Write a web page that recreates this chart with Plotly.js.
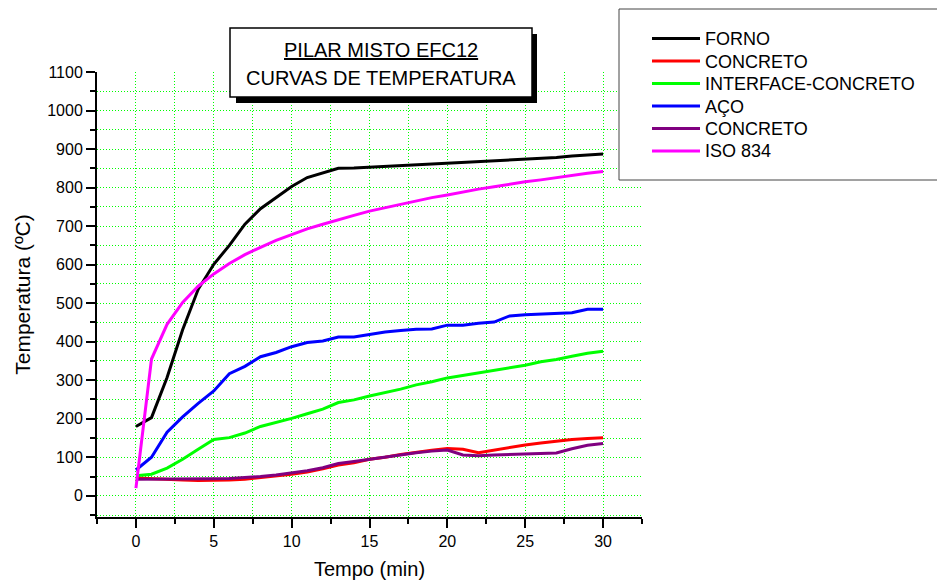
<!DOCTYPE html>
<html>
<head>
<meta charset="utf-8">
<script src="https://cdn.plot.ly/plotly-3.0.1.min.js"></script>
<style>html,body{margin:0;padding:0;background:#fff;}#chart{width:937px;height:580px;}</style>
</head>
<body>
<div id="chart"></div>
<script>
var tempo = [0,1,2,3,4,5,6,7,8,9,10,11,12,13,14,15,16,17,18,19,20,21,22,23,24,25,26,27,28,29,30];
var forno = [180,203,307,431,536,601,650,705,745,775,803,826,838,850,851,853,855,857,860,862,865,867,869,871,873,875,876,878,882,884,887];
var concreto1 = [46,44,42,41,40,40,41,43,47,51,56,62,70,80,86,95,100,107,113,118,123,121,112,119,126,132,137,142,146,149,151];
var interfaceConcreto = [52,56,72,95,121,146,151,163,180,190,201,213,225,242,249,259,268,277,288,296,306,313,319,326,332,339,348,354,362,370,375];
var aco = [67,100,165,205,240,272,317,336,361,372,387,398,402,412,412,419,425,429,432,433,443,443,448,451,467,470,472,474,475,484,484];
var concreto2 = [43,43,43,43,43,44,45,47,50,54,59,65,73,84,89,95,100,107,112,116,119,106,104,106,107,108,109,111,122,131,136];
var iso834 = [20,355,445,502,544,576,603,626,645,663,678,693,705,717,728,739,748,757,766,774,781,789,796,802,809,815,820,826,832,837,842];

var seriesNames = ['FORNO','CONCRETO','INTERFACE-CONCRETO','AÇO','CONCRETO','ISO 834'];
var seriesColors = ['#000000','#FF0000','#00FF00','#0000FF','#800080','#FF00FF'];
var seriesValues = [forno, concreto1, interfaceConcreto, aco, concreto2, iso834];
var titleLines = ['PILAR MISTO EFC12', 'CURVAS DE TEMPERATURA'];

var traces = seriesValues.map(function(v, i){
  return {x: tempo, y: v, type: 'scatter', mode: 'lines', name: seriesNames[i],
          showlegend: false, line: {color: seriesColors[i], width: 3}};
});

var FONT = 'Arial, "Liberation Sans", sans-serif';
var grid = '#00FF00';
var gdash = '1px,2px';

// plot area in pixels: left 97, right 642, top 72, bottom 517
function px(x){ return (x - 97) / 545; }
function py(y){ return (517 - y) / 445; }

var shapes = [
  {type: 'rect', xref: 'paper', yref: 'paper', layer: 'above',
   x0: px(619), x1: px(950), y0: py(180), y1: py(9),
   fillcolor: '#ffffff', line: {color: '#444', width: 1}},
  {type: 'rect', xref: 'paper', yref: 'paper', layer: 'above',
   x0: px(236), x1: px(537), y0: py(103), y1: py(34),
   fillcolor: '#000000', line: {width: 0}},
  {type: 'rect', xref: 'paper', yref: 'paper', layer: 'above',
   x0: px(230), x1: px(532), y0: py(97), y1: py(28),
   fillcolor: '#ffffff', line: {color: '#000', width: 1.5}}
];
var annotations = [
  {xref: 'paper', yref: 'paper', x: px(381), y: py(50), xanchor: 'center', yanchor: 'middle',
   showarrow: false, text: '<u>' + titleLines[0] + '</u>', font: {family: FONT, size: 20, color: '#000'}},
  {xref: 'paper', yref: 'paper', x: px(381), y: py(78), xanchor: 'center', yanchor: 'middle',
   showarrow: false, text: titleLines[1], font: {family: FONT, size: 20, color: '#000'}}
];
// legend entries
seriesNames.forEach(function(name, i){
  var yc = 38.5 + i * 22.5;
  shapes.push({type: 'line', xref: 'paper', yref: 'paper', layer: 'above',
    x0: px(652), x1: px(700), y0: py(yc), y1: py(yc),
    line: {color: seriesColors[i], width: 3}});
  annotations.push({xref: 'paper', yref: 'paper', x: px(703), y: py(yc + 0.5), xanchor: 'left', yanchor: 'middle',
    showarrow: false, text: name, font: {family: FONT, size: 18, color: '#000'}});
});

var layout = {
  width: 937, height: 580,
  margin: {l: 97, r: 295, t: 72, b: 63, pad: 0},
  paper_bgcolor: '#ffffff', plot_bgcolor: '#ffffff',
  font: {family: FONT, color: '#000', size: 16},
  showlegend: false,
  xaxis: {
    range: [-2.5, 32.5], tick0: 0, dtick: 5, ticks: 'outside', ticklen: 9, tickwidth: 2, tickcolor: '#000',
    showline: true, linewidth: 2, linecolor: '#000', zeroline: false,
    showgrid: true, gridcolor: grid, gridwidth: 1, griddash: gdash,
    tickfont: {family: FONT, size: 16, color: '#000'},
    minor: {tick0: 0, dtick: 2.5, ticks: 'outside', ticklen: 5, tickwidth: 2, tickcolor: '#000',
            showgrid: true, gridcolor: grid, gridwidth: 1, griddash: gdash},
    title: {text: 'Tempo (min)', font: {family: FONT, size: 20, color: '#000'}, standoff: 13}
  },
  yaxis: {
    range: [-55, 1100], tick0: 0, dtick: 100, ticks: 'outside', ticklen: 9, tickwidth: 2, tickcolor: '#000',
    showline: true, linewidth: 2, linecolor: '#000', zeroline: false,
    showgrid: true, gridcolor: grid, gridwidth: 1, griddash: gdash,
    tickfont: {family: FONT, size: 16, color: '#000'},
    minor: {tick0: 0, dtick: 50, ticks: 'outside', ticklen: 5, tickwidth: 2, tickcolor: '#000',
            showgrid: true, gridcolor: grid, gridwidth: 1, griddash: gdash},
    title: {text: 'Temperatura (ºC)', font: {family: FONT, size: 21, color: '#000'}, standoff: 11}
  },
  shapes: shapes,
  annotations: annotations
};

Plotly.newPlot('chart', traces, layout, {displayModeBar: false, staticPlot: true});
</script>
</body>
</html>
